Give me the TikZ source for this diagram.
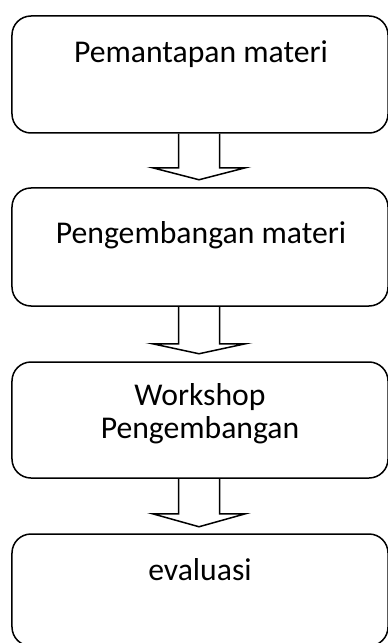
\documentclass[tikz,border=0pt]{standalone}
\usepackage{fontspec}
\setmainfont{Carlito}
\begin{document}
\begin{tikzpicture}[x=1bp,y=-1bp,
  boxstyle/.style={draw=black,line width=1.5bp,rounded corners=19bp,inner sep=0pt,minimum width=376bp},
  txt/.style={anchor=base,inner sep=0pt,font=\fontsize{31.8}{38}\selectfont},
  blockarrow/.style={draw=black,line width=1.5bp,line join=miter}]
\useasboundingbox (0,0) rectangle (387,643);
% boxes
\node[boxstyle,minimum height=117bp] (b1) at (200,74.5) {};
\node[boxstyle,minimum height=118bp] (b2) at (200,247) {};
\node[boxstyle,minimum height=116bp] (b3) at (200,420) {};
\node[boxstyle,minimum height=112bp] (b4) at (200,590) {};
% texts
\node[txt] (t1) at (201,63) {Pemantapan materi};
\node[txt] (t2) at (201,243) {Pengembangan materi};
\node[txt] (t3a) at (200,405) {Workshop};
\node[txt] (t3b) at (200,438) {Pengembangan};
\node[txt] (t4) at (200,580) {evaluasi};
% block arrows
\draw[blockarrow] ([xshift=-21.5bp]b1.south) -- ++(0,34) -- ++(-26,0) -- ++(46.5,12)
  -- ++(46.5,-12) -- ++(-26,0) -- ([xshift=19.5bp]b1.south);
\draw[blockarrow] ([xshift=-21.5bp]b2.south) -- ++(0,37) -- ++(-26,0) -- ++(46.5,10)
  -- ++(46.5,-10) -- ++(-26,0) -- ([xshift=19.5bp]b2.south);
\draw[blockarrow] ([xshift=-21.5bp]b3.south) -- ++(0,35) -- ++(-26,0) -- ++(46.5,13)
  -- ++(46.5,-13) -- ++(-26,0) -- ([xshift=19.5bp]b3.south);
\end{tikzpicture}
\end{document}
